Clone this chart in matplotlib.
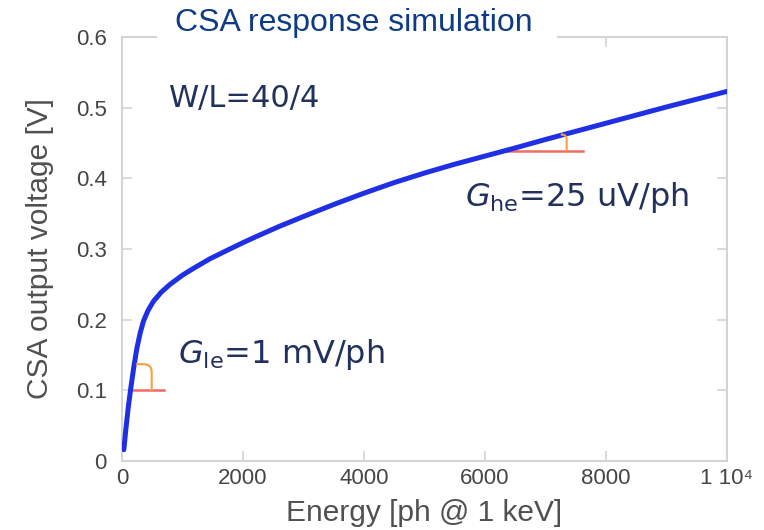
import matplotlib
matplotlib.use('Agg')
import matplotlib.pyplot as plt
from matplotlib.patches import Rectangle

# simulated CSA response
energy = [30, 65, 105, 145, 195, 245, 300, 355, 430, 520, 650, 795, 1000,
          1180, 1450, 1735, 2000, 2230, 2600, 3000, 3500, 4000, 4500, 5000,
          5500, 6000, 6500, 7000, 7500, 8000, 8500, 9000, 9500, 10000]
voltage = [0.016, 0.046, 0.077, 0.103, 0.133, 0.159, 0.181, 0.198, 0.213,
           0.226, 0.239, 0.250, 0.263, 0.2725, 0.286, 0.298, 0.309, 0.318,
           0.332, 0.346, 0.363, 0.379, 0.394, 0.4075, 0.420, 0.4315, 0.443,
           0.455, 0.4665, 0.478, 0.4895, 0.501, 0.512, 0.523]

# gain markers (red baselines and orange angle brackets)
le_base_x = [150, 694]
le_base_y = [0.1, 0.1]
le_arc = [(243, 0.137), (491, 0.1)]
he_base_x = [6330, 7620]
he_base_y = [0.439, 0.439]
he_arc = [(7268, 0.462), (7350, 0.439)]

xticks = [0, 2000, 4000, 6000, 8000, 10000]
xticklabels = ['0', '2000', '4000', '6000', '8000', '1 10\u2074']
yticks = [0, 0.1, 0.2, 0.3, 0.4, 0.5, 0.6]
yticklabels = ['0', '0.1', '0.2', '0.3', '0.4', '0.5', '0.6']

plt.rcParams['font.family'] = ['Liberation Sans', 'DejaVu Sans']
plt.rcParams['mathtext.fontset'] = 'dejavusans'

fig = plt.figure(figsize=(7.64, 5.30), dpi=100)
ax = fig.add_axes([122 / 764, 69 / 530, 605 / 764, 424 / 530])

ax.plot(energy, voltage, color='#1f30e4', lw=3.6, solid_capstyle='round',
        solid_joinstyle='round', zorder=3)

ax.plot(le_base_x, le_base_y, color='#f26b63', lw=1.8, zorder=2)
ax.plot(he_base_x, he_base_y, color='#f26b63', lw=1.8, zorder=2)
ax.annotate('', xy=le_arc[1], xytext=le_arc[0],
            arrowprops=dict(arrowstyle='-', color='#f7a13c', lw=1.5,
                            shrinkA=0, shrinkB=0,
                            connectionstyle='angle,angleA=0,angleB=90,rad=8'))
ax.annotate('', xy=he_arc[1], xytext=he_arc[0],
            arrowprops=dict(arrowstyle='-', color='#f7a13c', lw=1.5,
                            shrinkA=0, shrinkB=0,
                            connectionstyle='angle,angleA=0,angleB=90,rad=5'))

ax.set_xlim(0, 10000)
ax.set_ylim(0, 0.6)
ax.set_xticks(xticks)
ax.set_xticklabels(xticklabels)
ax.set_yticks(yticks)
ax.set_yticklabels(yticklabels)
ax.tick_params(direction='in', length=7, width=1.2, color='#d4d4d4',
               labelcolor='#454545', labelsize=16, top=True, right=True)
ax.tick_params(axis='x', pad=5)
ax.tick_params(axis='y', pad=11)
for s in ax.spines.values():
    s.set_color('#d4d4d4')
    s.set_linewidth(1.5)

ax.set_xlabel('Energy [ph @ 1 keV]', fontsize=21.5, color='#505050', va='center')
ax.set_ylabel('CSA output voltage [V]', fontsize=21.5, color='#505050', va='center')
ax.xaxis.set_label_coords(0.499, -0.123)
ax.yaxis.set_label_coords(-0.136, 0.5)

navy = '#22305e'
ax.text(770, 0.513, 'W/L=40/4', fontsize=22, color=navy, family='DejaVu Sans',
        va='center')
ax.text(925, 0.15, r'$G_{\mathrm{le}}$=1 mV/ph', fontsize=23, color=navy,
        family='DejaVu Sans', va='center')
ax.text(5670, 0.373, r'$G_{\mathrm{he}}$=25 uV/ph', fontsize=23, color=navy,
        family='DejaVu Sans', va='center')

# white band behind the title hides part of the top spine
fig.patches.append(Rectangle((157 / 764, 480 / 530), 400 / 764, 50 / 530,
                             transform=fig.transFigure, facecolor='white',
                             edgecolor='none', zorder=2))
fig.text(354 / 764, 507 / 530, 'CSA response simulation', fontsize=23,
         color='#0d3b86', ha='center', va='center', zorder=3)

fig.savefig('out.png', dpi=100)
